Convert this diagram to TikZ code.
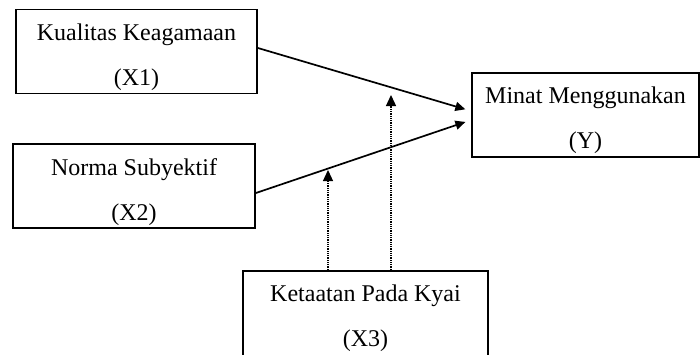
\documentclass[tikz,border=0pt]{standalone}
\usepackage{fontspec}
\setmainfont{Liberation Serif}
\usetikzlibrary{arrows.meta,calc}

\tikzset{
  varbox/.style={draw, line width=1.8pt, inner sep=0pt, minimum height=84pt},
  vartext/.style={font=\fontsize{24}{45}\selectfont, align=center, inner sep=0pt},
  effect/.style={line width=1.7pt, -{Triangle[length=10pt,width=9pt]}, shorten >=6pt},
  moderate/.style={line width=1.3pt, dash pattern=on 1pt off 0.8pt, -{Triangle[length=11pt,width=10pt]}}
}

\begin{document}
\begin{tikzpicture}[x=1pt,y=-1pt]
\useasboundingbox (0,0) rectangle (700,354);
\clip (0,0) rectangle (700,354);
% variables
\node[varbox, minimum width=241pt] (kualitas) at (136.5,51.5) {};
\node[vartext] (kualitasT) at ([yshift=-48.5pt]kualitas.north) {Kualitas Keagamaan\\(X1)};
\node[varbox, minimum width=242pt] (norma) at (134,186) {};
\node[vartext] (normaT) at ([yshift=-48.5pt]norma.north) {Norma Subyektif\\(X2)};
\node[varbox, minimum width=227pt] (minat) at (585.5,115) {};
\node[vartext] (minatT) at ([yshift=-48.5pt]minat.north) {Minat Menggunakan\\(Y)};
\node[varbox, minimum width=245pt, minimum height=110pt] (ketaatan) at (365.5,326) {};
\node[vartext] (ketaatanT) at ([yshift=-48.5pt]ketaatan.north) {Ketaatan Pada Kyai\\(X3)};
% direct effects
\draw[effect] ([yshift=3.5pt]kualitas.east) -- ([yshift=4pt]minat.west);
\draw[effect] ([yshift=-7pt]norma.east) -- ([yshift=-5pt]minat.west);
% moderation
\coordinate (modX1) at (391,95);
\coordinate (modX2) at (328,170);
\draw[moderate] (ketaatan.north -| modX1) -- (modX1);
\draw[moderate] (ketaatan.north -| modX2) -- (modX2);
\end{tikzpicture}
\end{document}
